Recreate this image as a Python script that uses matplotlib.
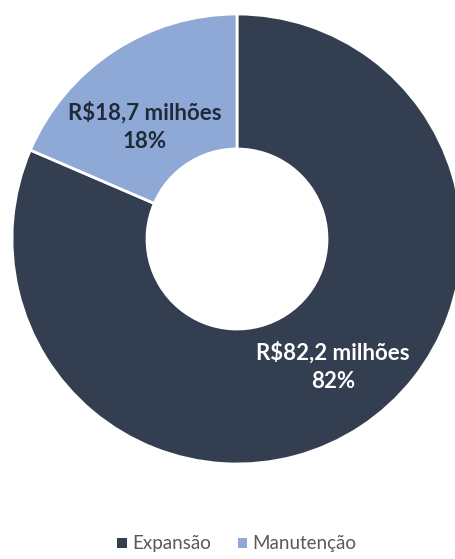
import numpy as np
import matplotlib.pyplot as plt

categories = ["Expansão", "Manutenção"]
values = [82.2, 18.7]
pct_labels = ["82%", "18%"]
value_labels = ["R$82,2 milhões", "R$18,7 milhões"]

colors = ["#333F50", "#8EA9D6"]
text_colors = ["white", "#1F2A3A"]
label_radius = [0.71, 0.645]
label_angle_shift = [3.6, 6.0]

plt.rcParams['font.family'] = ['Lato', 'DejaVu Sans']

fig = plt.figure(figsize=(4.56, 5.59), dpi=100)
W, H = 456, 559
cx, cy, r = 237, 239, 225
ax = fig.add_axes([(cx - r) / W, (H - cy - r) / H, 2 * r / W, 2 * r / H])

wedges, texts = ax.pie(
    values, colors=colors, startangle=90, counterclock=False, radius=1,
    wedgeprops=dict(width=0.6, edgecolor="white", linewidth=2),
)
for w, v, p, c, lr, sh in zip(wedges, value_labels, pct_labels, text_colors,
                              label_radius, label_angle_shift):
    ang = np.deg2rad((w.theta1 + w.theta2) / 2 + sh)
    ax.text(lr * np.cos(ang), lr * np.sin(ang), f"{v}\n{p}", ha="center", va="center",
            color=c, fontsize=16, fontweight="bold", linespacing=1.45)
ax.set_xlim(-1, 1)
ax.set_ylim(-1, 1)
ax.set_aspect("equal")
ax.axis("off")

leg = fig.legend(wedges, categories, loc="center", bbox_to_anchor=(cx / W, 1 - 544 / H),
                 ncol=2, frameon=False, handlelength=0.5, handleheight=0.5,
                 handletextpad=0.3, columnspacing=1.4, fontsize=13.5)
for t in leg.get_texts():
    t.set_color("#595959")
for h in leg.legend_handles:
    h.set_edgecolor("none")

fig.savefig("out.png", dpi=100)
